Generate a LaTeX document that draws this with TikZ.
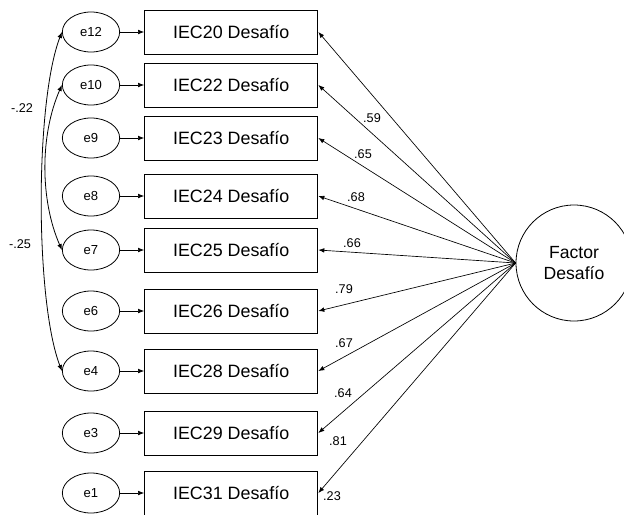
\documentclass[tikz,border=0pt]{standalone}
\usepackage{fontspec}
\setmainfont{Liberation Sans}
\usetikzlibrary{arrows.meta,positioning,shapes.geometric}

\begin{document}
\begin{tikzpicture}[
  x=0.75pt, y=-0.75pt,
  node distance=18pt,
  err/.style={draw, line width=0.6pt, ellipse, minimum width=43pt, minimum height=30pt, inner sep=0pt, font=\fontsize{9.8}{11}\selectfont},
  item/.style={draw, line width=0.7pt, minimum width=130pt, minimum height=33pt, inner sep=0pt, font=\fontsize{13.4}{16}\selectfont},
  latent/.style={draw, line width=0.6pt, circle, minimum size=87pt, inner sep=0pt, align=center, font=\fontsize{13.2}{16}\selectfont},
  load/.style={font=\fontsize{9.5}{11}\selectfont},
  arrow/.style={-{Latex[length=4.5pt,width=3.5pt]}, line width=0.5pt},
  cov/.style={{Latex[length=4.5pt,width=3.5pt]}-{Latex[length=4.5pt,width=3.5pt]}, line width=0.6pt}
]
\useasboundingbox (0,0) rectangle (624,514);

% error terms and indicators
\foreach \e/\i/\y in {12/20/32, 10/22/85, 9/23/138, 8/24/196, 7/25/250, 6/26/311, 4/28/371, 3/29/433, 1/31/493} {
  \node[err] (e\e) at (91,\y) {e\e};
  \node[item, right=of e\e] (i\i) {IEC\i{} Desafío};
  \draw[arrow] (e\e) -- (i\i);
}

% latent factor
\node[latent] (fac) at (574,263) {Factor\\Desafío};
\foreach \i in {20,22,23,24,25,26,28,29,31} {\draw[arrow] (fac.west) -- (i\i.east);}

% loadings
\foreach \v/\x/\y in {59/372/118, 65/363/154, 68/356/197, 66/352/243, 79/344/289, 67/344/343, 64/343/393, 81/338/441, 23/332/496} {
  \node[load] (l\v) at (\x,\y) {.\v};
}

% covariances
\draw[cov] (e12.west) .. controls +(-27,70) and +(-27,-70) .. (e4.west);
\draw[cov] (e10.west) .. controls +(-22,50) and +(-22,-50) .. (e7.west);
\node[load] (c22) at (22,108) {-.22};
\node[load] (c25) at (20,244) {-.25};
\end{tikzpicture}
\end{document}
